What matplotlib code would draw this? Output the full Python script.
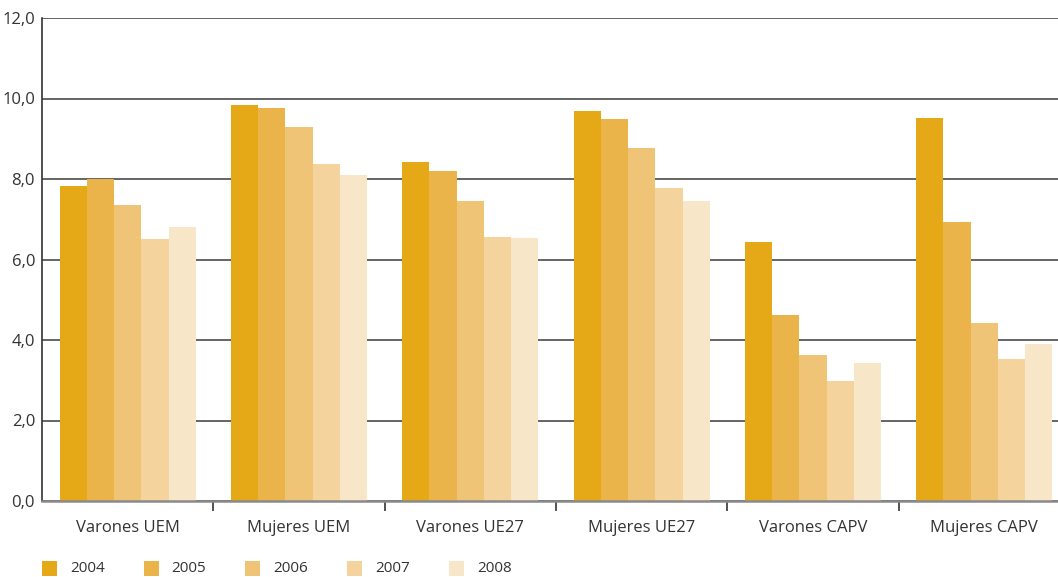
import numpy as np
import matplotlib.pyplot as plt
from matplotlib.patches import Rectangle
from matplotlib.ticker import FuncFormatter, FixedLocator

categories = ["Varones UEM", "Mujeres UEM", "Varones UE27",
              "Mujeres UE27", "Varones CAPV", "Mujeres CAPV"]
years = ["2004", "2005", "2006", "2007", "2008"]

v2004 = [7.83, 9.84, 8.42, 9.69, 6.43, 9.51]
v2005 = [8.00, 9.76, 8.20, 9.49, 4.62, 6.93]
v2006 = [7.35, 9.29, 7.45, 8.77, 3.63, 4.42]
v2007 = [6.50, 8.37, 6.56, 7.78, 2.98, 3.53]
v2008 = [6.80, 8.10, 6.53, 7.45, 3.43, 3.90]
series = [v2004, v2005, v2006, v2007, v2008]

colors = ["#e5a816", "#eab44a", "#efc476", "#f4d49c", "#f8e6c8"]
text_col = "#333333"

plt.rcParams['font.family'] = ['Open Sans', 'DejaVu Sans']

W, H = 1058, 577
fig = plt.figure(figsize=(W / 100, H / 100), dpi=100)
# plot area runs a bit past the right edge of the image, as in the original
ax = fig.add_axes([42 / W, 1 - 501 / H, 1028 / W, 483 / H])

x = np.arange(len(categories))
w = 0.159
for i, (vals, c, yr) in enumerate(zip(series, colors, years)):
    ax.bar(x + (i - 2) * w, vals, width=w, color=c, label=yr, zorder=3,
           linewidth=0)

ax.set_xlim(-0.5, len(categories) - 0.5)
ax.set_ylim(0, 12)
ax.set_yticks(np.arange(0, 12.1, 2))
ax.yaxis.set_major_formatter(FuncFormatter(lambda v, p: f"{v:.1f}".replace(".", ",")))
ax.yaxis.grid(True, color="#4a4a4a", linewidth=1.2, zorder=0)
ax.tick_params(axis="y", length=0, pad=5, labelsize=12, labelcolor=text_col)

ax.set_xticks(x)
ax.set_xticklabels(categories)
ax.tick_params(axis="x", which="major", length=0, pad=14, labelsize=12,
               labelcolor=text_col)
ax.xaxis.set_minor_locator(FixedLocator(x[:-1] + 0.5))
ax.tick_params(axis="x", which="minor", length=7, width=1.2, color="#333333")

for s in ["top", "right"]:
    ax.spines[s].set_visible(False)
ax.spines["left"].set_color("#333333")
ax.spines["left"].set_linewidth(1.2)
ax.spines["bottom"].set_color("#8a8a8a")
ax.spines["bottom"].set_linewidth(1.8)
ax.spines["left"].set_zorder(4)
ax.spines["bottom"].set_zorder(4)

# legend row along the bottom
for i, (c, yr) in enumerate(zip(colors, years)):
    x0 = 42 + i * 101.7
    fig.add_artist(Rectangle((x0 / W, 1 - 576 / H), 15 / W, 15 / H,
                             transform=fig.transFigure, color=c, lw=0))
    fig.text((x0 + 28) / W, 1 - 569 / H, yr, fontsize=11, color=text_col,
             va="center", ha="left")

fig.savefig("out.png", dpi=100)
